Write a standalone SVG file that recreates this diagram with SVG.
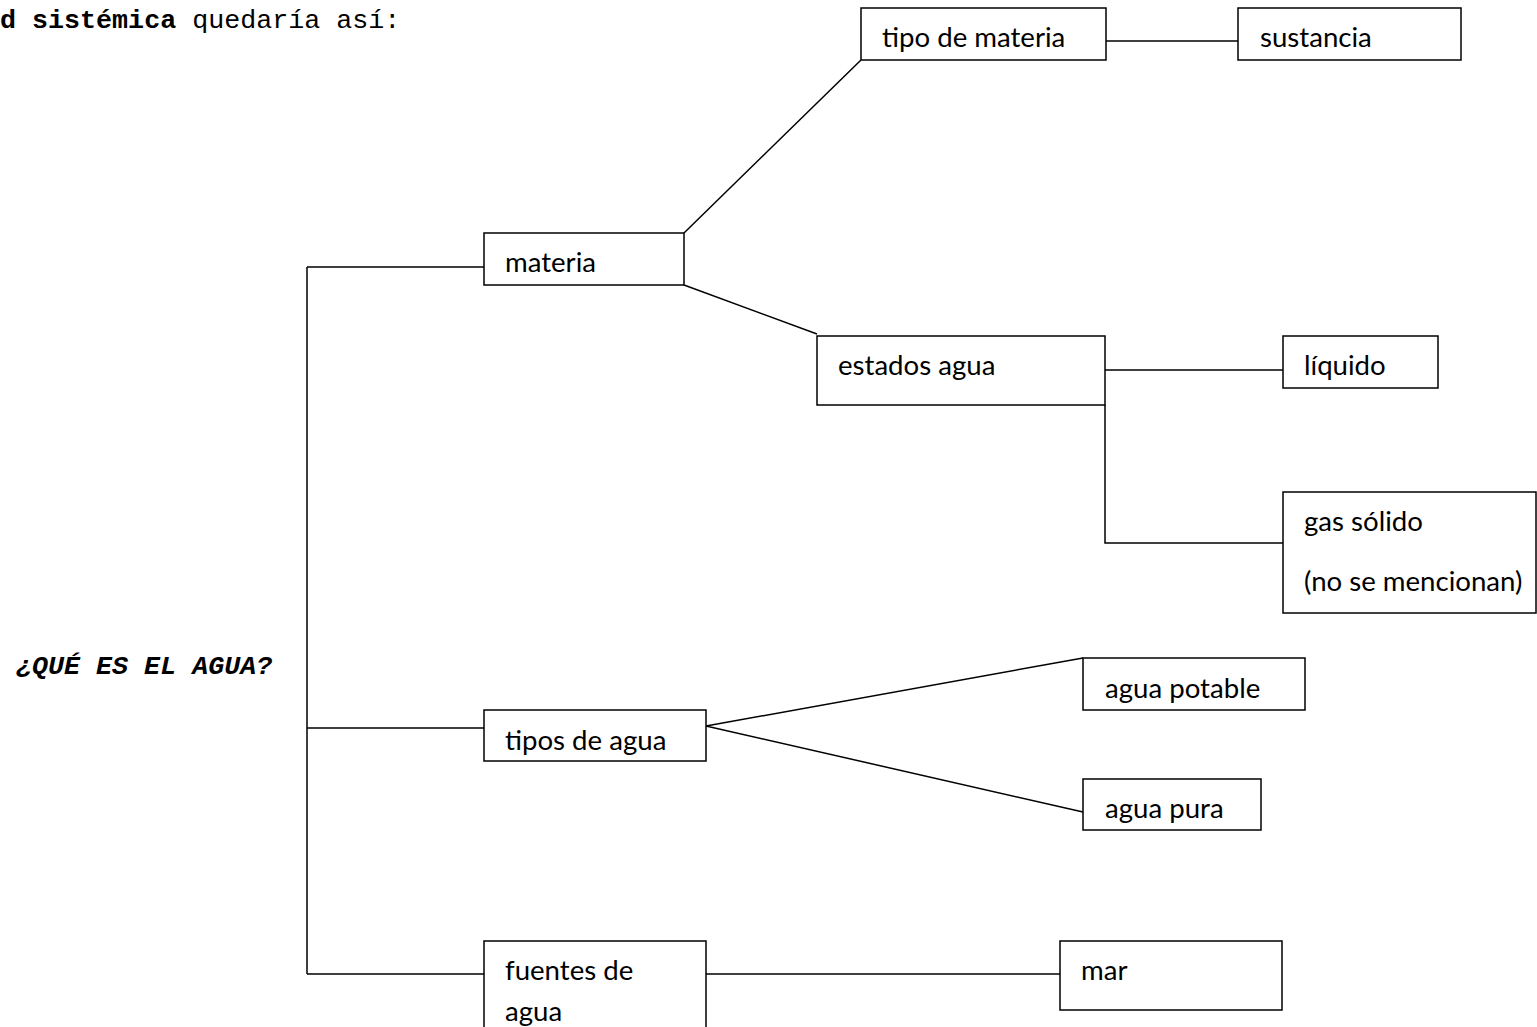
<svg xmlns="http://www.w3.org/2000/svg" width="1537" height="1027" viewBox="0 0 1537 1027">
<style>
.box{fill:#fff;stroke:#000;stroke-width:1.5}
.lbl{font-family:Lato,"Open Sans",sans-serif;font-size:27.6px;fill:#000}
.con{stroke:#000;stroke-width:1.5;fill:none}
.mono{font-family:"Liberation Mono","Courier New",monospace;font-size:26.7px;fill:#000}
</style>
<rect width="1537" height="1027" fill="#fff"/>
<text class="mono" x="0" y="28"><tspan font-weight="bold">d sistémica</tspan> quedaría así:</text>
<text class="mono" x="16" y="674" font-weight="bold" font-style="italic" font-size="26.4">¿QUÉ ES EL AGUA?</text>
<g id="connectors">
<path class="con" d="M307,267 V974 M307,267 H484 M307,728 H484 M307,974 H484"/>
<path class="con" d="M684,233 L861,60 M684,285 L817,334"/>
<path class="con" d="M1106,41 H1238"/>
<path class="con" d="M1105,370 H1283 M1105,405 V543 H1283"/>
<path class="con" d="M706,726 L1083,658 M706,726 L1083,812"/>
<path class="con" d="M706,974 H1060"/>
</g>
<g id="materia"><rect class="box" x="484" y="233" width="200" height="52"/><text class="lbl" x="505" y="272">materia</text></g>
<g id="tipo-de-materia"><rect class="box" x="861" y="8" width="245" height="52"/><text class="lbl" x="882" y="47">tipo de materia</text></g>
<g id="sustancia"><rect class="box" x="1238" y="8" width="223" height="52"/><text class="lbl" x="1260" y="47">sustancia</text></g>
<g id="estados-agua"><rect class="box" x="817" y="336" width="288" height="69"/><text class="lbl" x="838" y="375">estados agua</text></g>
<g id="liquido"><rect class="box" x="1283" y="336" width="155" height="52"/><text class="lbl" x="1304" y="375">líquido</text></g>
<g id="gas-solido"><rect class="box" x="1283" y="492" width="253" height="121"/><text class="lbl" x="1304" y="531">gas sólido</text><text class="lbl" x="1304" y="591">(no se mencionan)</text></g>
<g id="tipos-de-agua"><rect class="box" x="484" y="710" width="222" height="51"/><text class="lbl" x="505" y="750">tipos de agua</text></g>
<g id="agua-potable"><rect class="box" x="1083" y="658" width="222" height="52"/><text class="lbl" x="1105" y="698">agua potable</text></g>
<g id="agua-pura"><rect class="box" x="1083" y="779" width="178" height="51"/><text class="lbl" x="1105" y="818">agua pura</text></g>
<g id="fuentes-de-agua"><rect class="box" x="484" y="941" width="222" height="100"/><text class="lbl" x="505" y="980">fuentes de</text><text class="lbl" x="505" y="1021">agua</text></g>
<g id="mar"><rect class="box" x="1060" y="941" width="222" height="69"/><text class="lbl" x="1081" y="980">mar</text></g>
</svg>
